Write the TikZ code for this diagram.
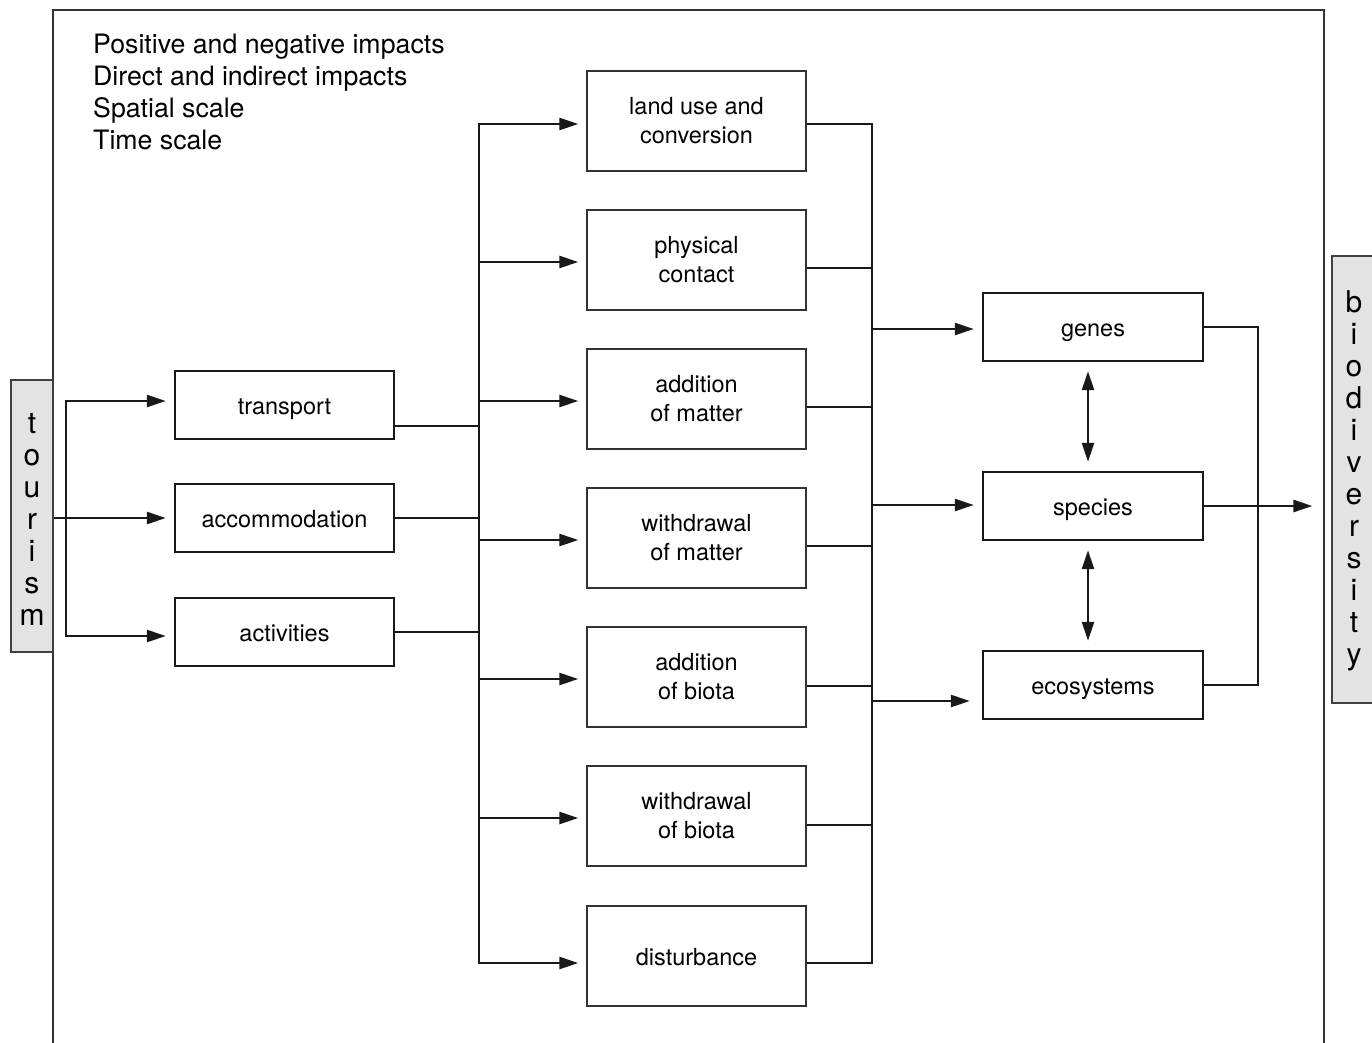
\documentclass[tikz,border=0pt]{standalone}
\usepackage{fontspec}
\setmainfont{TeX Gyre Heros}
\usetikzlibrary{arrows.meta}

\tikzset{
  box/.style={draw=black!80, line width=1.4pt, minimum width=219pt, minimum height=100pt,
    align=center, font=\fontsize{23.5}{29}\selectfont},
  smallbox/.style={box, draw=black!90, line width=2.4pt, minimum height=68pt,
    text height=19pt, text depth=0pt},
  endbox/.style={draw=black!75, line width=1.2pt, fill=black!11, inner sep=0pt},
  endtext/.style={align=center, inner sep=0pt, font=\fontsize{30}{32}\selectfont},
  link/.style={line width=2.6pt, draw=black!90},
  bus/.style={link, line cap=rect},
  arr/.style={link, -{Triangle[length=19pt,width=12pt]}, shorten >=8pt},
  twoway/.style={link, {Triangle[length=19pt,width=12pt]}-{Triangle[length=19pt,width=12pt]},
    shorten <=9pt, shorten >=9pt},
}

\begin{document}
\begin{tikzpicture}[x=1pt,y=-1pt]
		\useasboundingbox (0,0) rectangle (1372,1042);
		\clip (0,0) rectangle (1372,1042);
		% frame, open at the bottom
		\draw[line width=1.3pt, black!80] (53,1060) -- (53,10) -- (1324,10) -- (1324,1060);

		\node[anchor=north west, align=left, inner sep=0pt, font=\fontsize{26.7}{32}\selectfont] (notes) at (93,34)
			{Positive and negative impacts\\Direct and indirect impacts\\Spatial scale\\Time scale};

		\node[endbox, minimum width=42pt, minimum height=272pt] (tourism) at (32,516) {};
		\path (tourism.center) ++(0,3) node[endtext] (tourismtext) {t\\o\\u\\r\\i\\s\\m};
		\node[endbox, minimum width=46pt, minimum height=447pt] (biodiv) at (1355,479.5) {};
		\path (biodiv.center) ++(-1,1.5) node[endtext] (biodivtext) {b\\i\\o\\d\\i\\v\\e\\r\\s\\i\\t\\y};

		% what tourism does
		\node[smallbox] (transport) at (284.5,405) {transport};
		\node[smallbox] (accommodation) at (284.5,518) {accommodation};
		\node[smallbox] (activities) at (284.5,632) {activities};

		% how it acts
		\node[box] (landuse) at (696.5,121) {land use and\\conversion};
		\node[box] (contact) at (696.5,260) {physical\\contact};
		\node[box] (addmatter) at (696.5,399) {addition\\of matter};
		\node[box] (takematter) at (696.5,538) {withdrawal\\of matter};
		\node[box] (addbiota) at (696.5,677) {addition\\of biota};
		\node[box] (takebiota) at (696.5,816) {withdrawal\\of biota};
		\node[box, text height=19pt, text depth=0pt] (disturbance) at (696.5,956) {disturbance};

		% levels of biodiversity
		\node[smallbox, minimum width=220pt] (genes) at (1093,327) {genes};
		\node[smallbox, minimum width=220pt] (species) at (1093,506) {species};
		\node[smallbox, minimum width=220pt] (ecosystems) at (1093,685) {ecosystems};

		\coordinate (lbus) at (66,0);
		\coordinate (mbus) at (479,0);
		\coordinate (rbus) at (872,0);
		\coordinate (obus) at (1258,0);

		\draw[link] (tourism.east |- accommodation) -- (lbus |- accommodation);
		\draw[bus] (lbus |- 0,401) -- (lbus |- 0,636);
		\draw[arr] (lbus |- 0,401) -- (transport.west |- 0,401);
		\draw[arr] (lbus |- accommodation) -- (accommodation.west);
		\draw[arr] (lbus |- 0,636) -- (activities.west |- 0,636);

		\draw[link] (transport.east |- 0,426) -- (mbus |- 0,426);
		\draw[link] (accommodation.east) -- (mbus |- accommodation);
		\draw[link] (activities.east) -- (mbus |- activities);

		\draw[bus] (mbus |- 0,124) -- (mbus |- 0,963);
		\draw[arr] (mbus |- 0,124) -- (landuse.west |- 0,124);
		\draw[arr] (mbus |- 0,262) -- (contact.west |- 0,262);
		\draw[arr] (mbus |- 0,401) -- (addmatter.west |- 0,401);
		\draw[arr] (mbus |- 0,540) -- (takematter.west |- 0,540);
		\draw[arr] (mbus |- 0,679) -- (addbiota.west |- 0,679);
		\draw[arr] (mbus |- 0,818) -- (takebiota.west |- 0,818);
		\draw[arr] (mbus |- 0,963) -- (disturbance.west |- 0,963);

		\draw[link] (landuse.east |- 0,124) -- (rbus |- 0,124);
		\draw[link] (contact.east |- 0,268) -- (rbus |- 0,268);
		\draw[link] (addmatter.east |- 0,407) -- (rbus |- 0,407);
		\draw[link] (takematter.east |- 0,546) -- (rbus |- 0,546);
		\draw[link] (addbiota.east |- 0,686) -- (rbus |- 0,686);
		\draw[link] (takebiota.east |- 0,825) -- (rbus |- 0,825);
		\draw[link] (disturbance.east |- 0,963) -- (rbus |- 0,963);

		\draw[bus] (rbus |- 0,124) -- (rbus |- 0,963);
		\draw[arr] (rbus |- 0,329) -- (genes.west |- 0,329);
		\draw[arr] (rbus |- 0,505) -- (species.west |- 0,505);
		\draw[arr, shorten >=12pt] (rbus |- 0,701) -- (ecosystems.west |- 0,701);

		\draw[twoway] (genes.south -| 1088,0) -- (species.north -| 1088,0);
		\draw[twoway] (species.south -| 1088,0) -- (ecosystems.north -| 1088,0);

		\draw[link] (genes.east) -- (obus |- genes) -- (obus |- ecosystems) -- (ecosystems.east);
		\draw[arr, shorten >=19pt] (species.east) -- (biodiv.west |- species);
	\end{tikzpicture}
\end{document}
